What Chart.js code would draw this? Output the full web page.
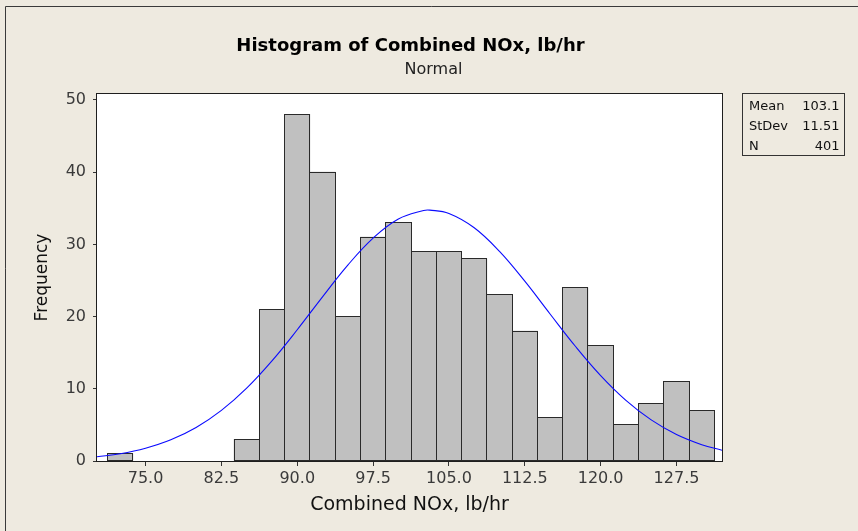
<!DOCTYPE html>
<html>
<head>
<meta charset="utf-8">
<script src="https://cdn.jsdelivr.net/npm/chart.js@4/dist/chart.umd.min.js"></script>
<style>
  html, body { margin: 0; padding: 0; background: #EEEAE0; }
  canvas { display: block; }
</style>
</head>
<body>
<canvas id="c" width="858" height="531"></canvas>
<script>
// ---- data ----
const chartTitle = 'Histogram of Combined NOx, lb/hr';
const chartSubtitle = 'Normal';
const xAxisTitle = 'Combined NOx, lb/hr';
const yAxisTitle = 'Frequency';

const binCenters = [72.5, 75, 77.5, 80, 82.5, 85, 87.5, 90, 92.5, 95, 97.5, 100, 102.5, 105, 107.5, 110, 112.5, 115, 117.5, 120, 122.5, 125, 127.5, 130];
const frequencies = [1, 0, 0, 0, 0, 3, 21, 48, 40, 20, 31, 33, 29, 29, 28, 23, 18, 6, 24, 16, 5, 8, 11, 7];

const curveX = [70.2, 72.5, 75, 77.5, 80, 82.5, 85, 87.5, 90, 92.5, 95, 97.5, 100, 102.5, 103.1, 105, 107.5, 110, 112.5, 115, 117.5, 120, 122.5, 125, 127.5, 130, 132];
const curveY = [0.58, 1.01, 1.77, 2.93, 4.64, 7.01, 10.09, 13.87, 18.18, 22.74, 27.13, 30.87, 33.51, 34.70, 34.75, 34.28, 32.30, 29.03, 24.90, 20.36, 15.89, 11.83, 8.40, 5.69, 3.67, 2.26, 1.49];

const xTickValues = [75, 82.5, 90, 97.5, 105, 112.5, 120, 127.5];
const xTickLabels = ['75.0', '82.5', '90.0', '97.5', '105.0', '112.5', '120.0', '127.5'];
const yTickValues = [0, 10, 20, 30, 40, 50];
const yTickLabels = ['0', '10', '20', '30', '40', '50'];

const statLabels = ['Mean', 'StDev', 'N'];
const statValues = ['103.1', '11.51', '401'];

const xMin = 70.2, xMax = 132.0;
const yMin = 0, yMax = 50.83;

// ---- chart ----
const FONT = '"DejaVu Sans", Verdana, sans-serif';
const BG = '#EEEAE0';
const BAR_INDEX = 1;

const decorPlugin = {
  id: 'decor',
  beforeDraw(chart) {
    const ctx = chart.ctx;
    ctx.save();
    ctx.fillStyle = BG;
    ctx.fillRect(0, 0, chart.width, chart.height);
    const a = chart.chartArea;
    ctx.fillStyle = '#FFFFFF';
    ctx.fillRect(a.left, a.top, a.right - a.left, a.bottom - a.top);
    // outer frame (left and top edges)
    ctx.strokeStyle = '#3a3a3a';
    ctx.lineWidth = 1;
    ctx.beginPath();
    ctx.moveTo(5.5, chart.height);
    ctx.lineTo(5.5, 6.5);
    ctx.lineTo(chart.width, 6.5);
    ctx.stroke();
    ctx.restore();
  },
  afterDatasetDraw(chart, args) {
    if (args.index !== BAR_INDEX) return;
    // crisp 1px outlines around the library-placed bars
    const ctx = chart.ctx;
    ctx.save();
    ctx.strokeStyle = '#2a2a2a';
    ctx.lineWidth = 1;
    args.meta.data.forEach((el) => {
      const p = el.getProps(['x', 'y', 'base', 'width'], true);
      if (p.y == null || isNaN(p.y)) return;
      const l = Math.floor(p.x - p.width / 2) + 0.5;
      const r = Math.floor(p.x + p.width / 2) + 0.5;
      const t = Math.floor(p.y) + 0.5;
      const b = Math.floor(p.base) + 0.5;
      ctx.strokeRect(l, t, r - l, b - t);
    });
    ctx.restore();
  },
  afterDraw(chart) {
    const ctx = chart.ctx;
    const a = chart.chartArea;
    ctx.save();
    // plot frame
    ctx.strokeStyle = '#1e1e1e';
    ctx.lineWidth = 1;
    ctx.strokeRect(a.left - 0.5, a.top - 0.5, a.right - a.left + 1, a.bottom - a.top + 1);

    const cx = (a.left + a.right) / 2;
    // titles
    ctx.fillStyle = '#000';
    ctx.textAlign = 'center';
    ctx.textBaseline = 'alphabetic';
    ctx.font = 'bold 18px ' + FONT;
    ctx.fillText(chartTitle, cx + 1, 51);
    ctx.fillStyle = '#222';
    ctx.font = '16px ' + FONT;
    ctx.fillText(chartSubtitle, cx + 24, 74);

    // x axis title
    ctx.fillStyle = '#111';
    ctx.font = '19px ' + FONT;
    ctx.fillText(xAxisTitle, cx, 510);

    // y axis title
    ctx.save();
    ctx.translate(46.5, (a.top + a.bottom) / 2);
    ctx.rotate(-Math.PI / 2);
    ctx.font = '17px ' + FONT;
    ctx.fillText(yAxisTitle, 0, 0);
    ctx.restore();

    // stats box
    ctx.strokeStyle = '#333';
    ctx.strokeRect(742.5, 93.5, 102, 62);
    ctx.font = '13px ' + FONT;
    ctx.fillStyle = '#111';
    for (let i = 0; i < statLabels.length; i++) {
      const y = 110 + i * 20;
      ctx.textAlign = 'left';
      ctx.fillText(statLabels[i], 749, y);
      ctx.textAlign = 'right';
      ctx.fillText(statValues[i], 839.5, y);
    }
    ctx.restore();
  }
};

const barData = binCenters.map((x, i) => ({ x: x, y: frequencies[i] === 0 ? null : frequencies[i] }));
const curveData = curveX.map((x, i) => ({ x: x, y: curveY[i] }));

new Chart(document.getElementById('c'), {
  type: 'bar',
  data: {
    datasets: [
      {
        type: 'line',
        label: 'Normal',
        data: curveData,
        borderColor: '#0a0aff',
        borderWidth: 1.1,
        pointRadius: 0,
        tension: 0.4,
        fill: false,
        order: 0
      },
      {
        type: 'bar',
        label: 'Frequency',
        data: barData,
        backgroundColor: '#C0C0C0',
        borderWidth: 0,
        barPercentage: 1.0,
        categoryPercentage: 1.0,
        order: 1
      }
    ]
  },
  options: {
    responsive: false,
    animation: false,
    devicePixelRatio: 1,
    layout: { padding: { left: 0, top: 94, right: 136, bottom: 0 } },
    plugins: {
      legend: { display: false },
      title: { display: false },
      tooltip: { enabled: false }
    },
    scales: {
      x: {
        type: 'linear',
        min: xMin,
        max: xMax,
        offset: false,
        afterFit(scale) { scale.height = 70; },
        afterBuildTicks(scale) { scale.ticks = xTickValues.map(v => ({ value: v })); },
        grid: { display: true, offset: false, drawOnChartArea: false, drawTicks: true, tickLength: 5, color: '#333', lineWidth: 1 },
        border: { display: false },
        ticks: {
          color: '#3a3a3a',
          font: { family: FONT, size: 16 },
          padding: 3,
          maxRotation: 0,
          autoSkip: false,
          callback: (v) => { const i = xTickValues.indexOf(v); return i >= 0 ? xTickLabels[i] : ''; }
        }
      },
      y: {
        type: 'linear',
        min: yMin,
        max: yMax,
        afterFit(scale) { scale.width = 97; },
        afterBuildTicks(scale) { scale.ticks = yTickValues.map(v => ({ value: v })); },
        grid: { display: true, drawOnChartArea: false, drawTicks: true, tickLength: 4, color: '#333', lineWidth: 1 },
        border: { display: false },
        ticks: {
          color: '#3a3a3a',
          font: { family: FONT, size: 16 },
          padding: 7,
          autoSkip: false,
          callback: (v) => { const i = yTickValues.indexOf(v); return i >= 0 ? yTickLabels[i] : ''; }
        }
      }
    }
  },
  plugins: [decorPlugin]
});
</script>
</body>
</html>
